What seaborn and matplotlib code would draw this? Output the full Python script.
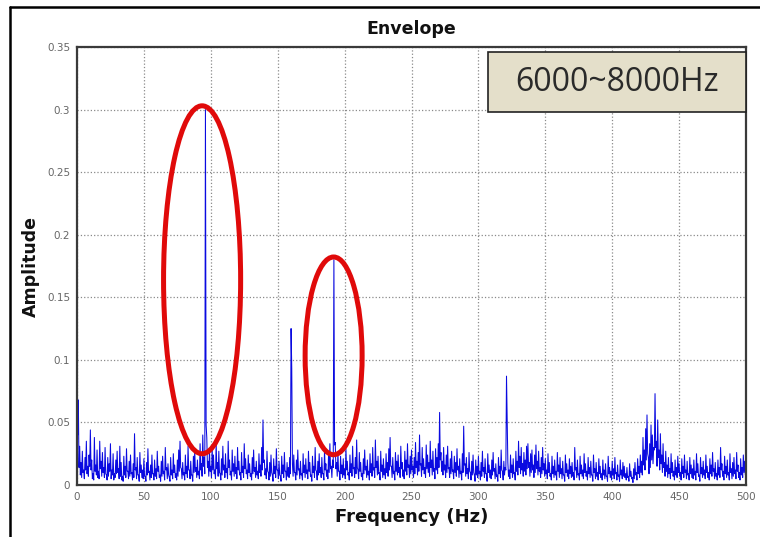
import numpy as np
import pandas as pd
import seaborn as sns
import matplotlib
matplotlib.use("Agg")
import matplotlib.pyplot as plt
from matplotlib.patches import Ellipse, Rectangle
from matplotlib.lines import Line2D
from matplotlib.ticker import FormatStrFormatter

# Envelope spectrum, amplitude in units of 1e-3.
# Whole-hertz bins 0..500 Hz
freq_int_hz = list(range(0, 501))
amp_int_milli = [
    108, 68, 31, 18, 27, 12, 22, 35, 15, 24,
    44, 20, 9, 38, 16, 28, 11, 35, 19, 26,
    14, 30, 8, 22, 17, 33, 12, 25, 9, 20,
    27, 13, 31, 18, 7, 23, 15, 29, 11, 19,
    24, 10, 17, 41, 14, 22, 8, 26, 16, 12,
    21, 7, 18, 29, 11, 16, 24, 9, 20, 13,
    27, 15, 8, 19, 23, 11, 30, 14, 17, 6,
    22, 12, 25, 16, 9, 20, 28, 35, 13, 18,
    10, 24, 15, 31, 12, 19, 8, 23, 27, 14,
    20, 11, 33, 17, 40, 22, 300, 38, 19, 28,
    15, 30, 24, 12, 34, 18, 27, 9, 21, 31,
    16, 25, 13, 35, 20, 11, 28, 17, 23, 14,
    30, 19, 10, 26, 15, 33, 21, 12, 24, 17,
    9, 22, 28, 14, 19, 11, 25, 16, 30, 52,
    20, 13, 27, 10, 18, 24, 8, 21, 15, 29,
    12, 19, 7, 23, 16, 26, 11, 18, 14, 22,
    125, 17, 24, 10, 20, 28, 13, 19, 9, 25,
    16, 21, 12, 27, 18, 8, 23, 15, 30, 11,
    19, 25, 14, 22, 9, 28, 17, 12, 24, 33,
    15, 20, 180, 34, 18, 26, 11, 23, 16, 21,
    13, 29, 19, 10, 24, 17, 31, 14, 22, 36,
    12, 26, 18, 9, 21, 28, 15, 20, 11, 25,
    17, 30, 14, 36, 19, 23, 10, 27, 16, 21,
    13, 25, 18, 29, 38, 15, 22, 11, 26, 19,
    24, 14, 31, 18, 12, 27, 20, 33, 16, 23,
    28, 15, 22, 34, 19, 26, 40, 17, 30, 21,
    14, 32, 24, 18, 35, 20, 27, 13, 29, 22,
    33, 58, 26, 19, 30, 16, 24, 31, 14, 21,
    27, 12, 23, 18, 29, 15, 21, 11, 25, 47,
    17, 22, 13, 26, 10, 19, 24, 8, 20, 15,
    23, 11, 18, 27, 14, 21, 9, 25, 16, 12,
    20, 26, 13, 17, 8, 22, 15, 28, 11, 19,
    14, 87, 18, 12, 24, 16, 21, 10, 27, 19,
    35, 23, 30, 17, 26, 20, 31, 33, 18, 25,
    28, 16, 24, 32, 19, 27, 14, 22, 30, 17,
    21, 12, 25, 18, 9, 23, 15, 20, 11, 26,
    16, 22, 13, 19, 8, 24, 17, 12, 21, 15,
    18, 10, 30, 14, 20, 9, 23, 16, 12, 25,
    17, 11, 22, 14, 19, 8, 24, 13, 18, 10,
    21, 15, 9, 20, 12, 17, 7, 23, 14, 11,
    19, 13, 22, 10, 16, 8, 20, 12, 18, 15,
    9, 14, 7, 17, 11, 6, 13, 18, 10, 21,
    15, 24, 19, 38, 28, 45, 56, 22, 33, 48,
    40, 30, 73, 35, 52, 28, 41, 24, 33, 18,
    27, 16, 22, 13, 25, 18, 11, 20, 14, 23,
    17, 10, 21, 15, 24, 12, 19, 9, 22, 16,
    13, 20, 11, 25, 17, 8, 22, 14, 19, 12,
    24, 15, 10, 21, 16, 26, 13, 18, 9, 20,
    14, 30, 17, 11, 23, 15, 20, 10, 25, 13,
    18, 22, 12, 26, 16, 10, 21, 14, 24, 19,
    22,
]

# Half-hertz bins 0.5..499.5 Hz
freq_half_hz = [k + 0.5 for k in range(0, 500)]
amp_half_milli = [
    40, 14, 8, 6, 10, 5, 12, 9, 7, 15,
    12, 5, 4, 11, 8, 6, 5, 13, 7, 10,
    6, 9, 4, 7, 11, 5, 8, 4, 6, 9,
    10, 5, 7, 4, 3, 8, 6, 11, 5, 7,
    9, 4, 6, 12, 5, 8, 3, 10, 6, 5,
    7, 3, 8, 10, 4, 6, 9, 4, 7, 5,
    11, 6, 3, 7, 9, 4, 12, 5, 8, 3,
    8, 5, 10, 6, 4, 7, 11, 14, 5, 8,
    4, 9, 6, 12, 5, 8, 3, 10, 11, 6,
    8, 5, 12, 7, 15, 9, 48, 14, 7, 11,
    6, 12, 9, 5, 13, 7, 10, 4, 8, 12,
    6, 10, 5, 14, 8, 4, 11, 7, 9, 5,
    12, 8, 4, 10, 6, 13, 9, 5, 10, 7,
    4, 9, 11, 6, 8, 5, 10, 7, 12, 18,
    8, 5, 11, 4, 7, 10, 3, 9, 6, 12,
    5, 8, 3, 9, 6, 11, 4, 7, 6, 9,
    93, 7, 10, 4, 8, 12, 5, 8, 4, 10,
    6, 9, 5, 11, 7, 3, 10, 6, 12, 4,
    8, 10, 6, 9, 4, 12, 7, 5, 10, 13,
    6, 14, 32, 13, 7, 11, 4, 9, 6, 8,
    5, 12, 8, 4, 10, 7, 13, 6, 9, 14,
    5, 11, 7, 4, 9, 12, 6, 8, 4, 10,
    7, 12, 6, 14, 8, 9, 4, 11, 6, 8,
    5, 10, 7, 12, 15, 6, 9, 4, 11, 8,
    10, 6, 13, 7, 5, 11, 8, 14, 6, 9,
    12, 6, 9, 14, 8, 11, 16, 7, 12, 9,
    6, 13, 10, 7, 14, 8, 11, 5, 12, 9,
    14, 20, 11, 8, 12, 6, 10, 13, 6, 9,
    11, 5, 10, 7, 12, 6, 9, 4, 10, 16,
    7, 9, 5, 11, 4, 8, 10, 3, 8, 6,
    9, 4, 7, 11, 6, 9, 3, 10, 6, 5,
    8, 11, 5, 7, 3, 9, 6, 12, 4, 8,
    12, 50, 7, 5, 10, 6, 9, 4, 11, 8,
    14, 9, 12, 7, 11, 8, 13, 14, 7, 10,
    12, 6, 10, 13, 8, 11, 6, 9, 12, 7,
    9, 5, 10, 7, 4, 9, 6, 8, 4, 11,
    6, 9, 5, 8, 3, 10, 7, 5, 9, 6,
    7, 4, 12, 6, 8, 4, 9, 7, 5, 10,
    7, 4, 9, 6, 8, 3, 10, 5, 7, 4,
    9, 6, 4, 8, 5, 7, 3, 9, 6, 4,
    8, 5, 9, 4, 7, 3, 8, 5, 7, 6,
    4, 6, 3, 7, 5, 2, 5, 8, 4, 9,
    6, 10, 8, 16, 12, 20, 25, 9, 14, 20,
    17, 28, 30, 15, 22, 12, 17, 10, 14, 7,
    11, 6, 9, 5, 10, 7, 4, 8, 6, 10,
    7, 4, 9, 6, 10, 5, 8, 4, 9, 6,
    5, 8, 4, 10, 7, 3, 9, 6, 8, 5,
    10, 6, 4, 9, 7, 11, 5, 7, 4, 8,
    6, 12, 7, 4, 9, 6, 8, 4, 10, 5,
    7, 9, 5, 11, 6, 4, 8, 6, 10, 8,
]

x_ticks = [0, 50, 100, 150, 200, 250, 300, 350, 400, 450, 500]
y_ticks = [0, 0.05, 0.1, 0.15, 0.2, 0.25, 0.3, 0.35]
band_label = "6000~8000Hz"

df = pd.DataFrame({
    "freq": freq_int_hz + freq_half_hz,
    "amp": np.array(amp_int_milli + amp_half_milli) / 1000.0,
}).sort_values("freq").reset_index(drop=True)

sns.set_theme(style="white")
plt.rcParams["font.family"] = ["DejaVu Sans"]

fig = plt.figure(figsize=(7.6, 5.37), dpi=100)
fig.patch.set_facecolor("white")
ax = fig.add_axes([0.1013, 0.0968, 0.8803, 0.8157])
ax.set_facecolor("white")

sns.lineplot(data=df, x="freq", y="amp", ax=ax, color="#0a0ae0",
             linewidth=0.75, estimator=None, sort=False)

ax.set_xlim(0, 500)
ax.set_ylim(0, 0.35)
ax.set_xticks(x_ticks)
ax.set_yticks(y_ticks)
ax.yaxis.set_major_formatter(FormatStrFormatter("%g"))
ax.grid(True, linestyle=":", color="#8a8a8a", linewidth=0.9)
ax.tick_params(axis="both", labelsize=7.5, labelcolor="#666666",
               direction="in", length=3, color="#333333", pad=5)
for s in ax.spines.values():
    s.set_color("#3a3a3a")
    s.set_linewidth(1.6)

ax.set_title("Envelope", fontsize=12.5, fontweight="bold", color="#111111", pad=9)
ax.set_xlabel("Frequency (Hz)", fontsize=13, fontweight="bold", color="#111111",
              labelpad=4)
ax.set_ylabel("Amplitude", fontsize=12.5, fontweight="bold", color="#111111",
              labelpad=5)

# Red rings around the shaft-rate harmonics
ax.add_patch(Ellipse((93.5, 0.164), 57.6, 0.278, fill=False, edgecolor="#e00a0a",
                     linewidth=3.6, zorder=5, clip_on=False))
ax.add_patch(Ellipse((191.8, 0.1032), 42.6, 0.158, fill=False, edgecolor="#e00a0a",
                     linewidth=3.6, zorder=5, clip_on=False))

# Filter band label box
fig.patches.append(Rectangle((0.642, 0.7914), 0.340, 0.1118, transform=fig.transFigure,
                             facecolor="#e4dfca", edgecolor="#222222", linewidth=1.2,
                             zorder=10))
fig.text(0.812, 0.847, band_label, ha="center", va="center", fontsize=23,
         family=["Open Sans", "DejaVu Sans"], color="#2a2a2a", zorder=11)

# Outer frame lines
fig.add_artist(Line2D([10 / 760, 1.0], [1 - 7 / 537, 1 - 7 / 537],
                      transform=fig.transFigure, color="black", linewidth=1.8))
fig.add_artist(Line2D([10 / 760, 10 / 760], [0.0, 1 - 7 / 537],
                      transform=fig.transFigure, color="black", linewidth=1.8))

fig.savefig("out.png", dpi=100, facecolor="white")
